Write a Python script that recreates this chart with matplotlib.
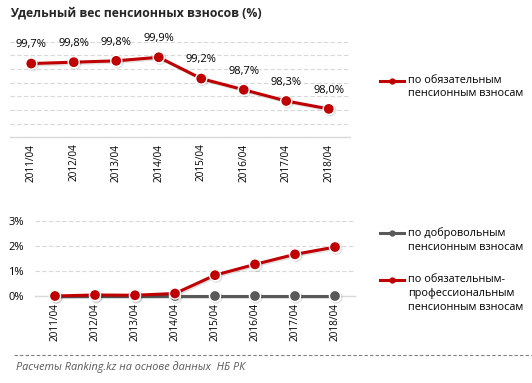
import matplotlib
matplotlib.use("Agg")
import matplotlib.pyplot as plt
import matplotlib.patheffects as pe
from matplotlib.lines import Line2D

plt.rcParams['font.family'] = ['Open Sans', 'DejaVu Sans']

periods = ["2011/04", "2012/04", "2013/04", "2014/04", "2015/04", "2016/04", "2017/04", "2018/04"]
mandatory = [99.7, 99.75, 99.8, 99.93, 99.15, 98.74, 98.33, 98.04]
mandatory_labels = ["99,7%", "99,8%", "99,8%", "99,9%", "99,2%", "98,7%", "98,3%", "98,0%"]
voluntary = [0.0, 0.0, 0.0, 0.0, 0.0, 0.0, 0.0, 0.0]
professional = [0.0, 0.04, 0.03, 0.1, 0.83, 1.26, 1.66, 1.95]

title = "Удельный вес пенсионных взносов (%)"
legend_mand = "по обязательным\nпенсионным взносам"
legend_vol = "по добровольным\nпенсионным взносам"
legend_prof = "по обязательным-\nпрофессиональным\nпенсионным взносам"
source = "Расчеты Ranking.kz на основе данных  НБ РК"

RED = "#C00000"
GRAY = "#595959"
GRID = "#D9D9D9"

W, H = 532, 383
fig = plt.figure(figsize=(W / 100, H / 100), dpi=100)

def fx(px):
    return px / W

def fy(py):
    return 1 - py / H

shadow = [pe.SimpleLineShadow(offset=(1.0, -1.0), alpha=0.12, shadow_color="black"), pe.Normal()]

# ---- Top axes ----
ax1 = fig.add_axes([fx(10), fy(137.3), fx(340), (137.3 - 41.7) / H])
x = list(range(len(periods)))
ax1.set_xlim(-0.5, 7.5)
ax1.set_ylim(97.0, 100.5)
ax1.set_yticks([97.0, 97.5, 98.0, 98.5, 99.0, 99.5, 100.0, 100.5])
ax1.yaxis.grid(True, color=GRID, linestyle=(0, (4, 2)), linewidth=0.8)
ax1.set_axisbelow(True)
for s in ["top", "right", "left"]:
    ax1.spines[s].set_visible(False)
ax1.spines["bottom"].set_color(GRID)
ax1.spines["bottom"].set_linewidth(1.0)
ax1.tick_params(axis="y", left=False, labelleft=False)
ax1.set_xticks(x)
ax1.set_xticklabels(periods, rotation=90, fontsize=7.2, va="top", ha="center")
ax1.tick_params(axis="x", length=0, pad=4.5)
ax1.plot(x, mandatory, color=RED, lw=2.2, marker="o", ms=8, mfc=RED, mec="white", mew=1.0,
         clip_on=False, path_effects=shadow, zorder=3)
for xi, yi, lab in zip(x, mandatory, mandatory_labels):
    ax1.annotate(lab, (xi, yi), xytext=(0, 13.5), textcoords="offset points",
                 ha="center", va="center", fontsize=8, color="black")

# ---- Bottom axes ----
ax2 = fig.add_axes([fx(35), fy(296), fx(320), (296 - 220.7) / H])
ax2.set_xlim(-0.5, 7.5)
ax2.set_ylim(0, 3)
ax2.set_yticks([0, 1, 2, 3])
ax2.set_yticklabels(["0%", "1%", "2%", "3%"], fontsize=8)
ax2.yaxis.grid(True, color=GRID, linestyle=(0, (4, 2)), linewidth=0.8)
ax2.set_axisbelow(True)
for s in ["top", "right", "left"]:
    ax2.spines[s].set_visible(False)
ax2.spines["bottom"].set_color(GRID)
ax2.spines["bottom"].set_linewidth(1.0)
ax2.tick_params(axis="y", length=0, pad=8)
ax2.set_xticks(x)
ax2.set_xticklabels(periods, rotation=90, fontsize=7.2, va="top", ha="center")
ax2.tick_params(axis="x", length=0, pad=5)
ax2.plot(x, voluntary, color=GRAY, lw=2.2, marker="o", ms=8, mfc=GRAY, mec="white", mew=1.0,
         clip_on=False, path_effects=shadow, zorder=3)
ax2.plot(x, professional, color=RED, lw=2.2, marker="o", ms=8, mfc=RED, mec="white", mew=1.0,
         clip_on=False, path_effects=shadow, zorder=4)

# ---- Title ----
fig.text(fx(10), fy(13), title, fontsize=8.8, fontweight="bold", color="#262626",
         ha="left", va="center")

# ---- Legends (manual) ----
def legend_entry(px, py, color, text):
    fig.add_artist(Line2D([fx(px), fx(px + 24)], [fy(py), fy(py)], color=color, lw=2.2,
                          transform=fig.transFigure))
    fig.add_artist(Line2D([fx(px + 12)], [fy(py)], color=color, marker="o", ms=3.5,
                          transform=fig.transFigure))
    fig.text(fx(px + 28), fy(py - 6), text, fontsize=7.8, color="black", ha="left", va="top",
             linespacing=1.35)

legend_entry(380, 80.7, RED, legend_mand)
legend_entry(380, 233.3, GRAY, legend_vol)
legend_entry(380, 280, RED, legend_prof)

# ---- Footer ----
fig.add_artist(Line2D([fx(14), 1.0], [fy(355), fy(355)], color="#808080", lw=0.8,
                      linestyle=(0, (3, 2)), transform=fig.transFigure))
fig.text(fx(16), fy(367), source, fontsize=7.8, style="italic", color="#595959",
         ha="left", va="center")

fig.savefig("out.png", dpi=100)
